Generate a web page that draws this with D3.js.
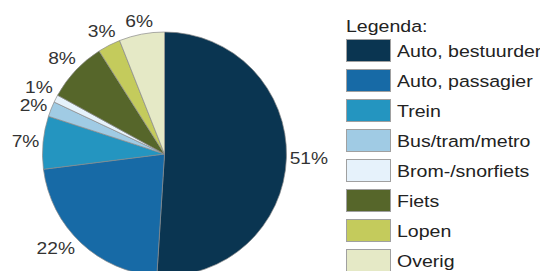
<!DOCTYPE html>
<html><head><meta charset="utf-8">
<script src="https://cdn.jsdelivr.net/npm/d3@7"></script>
<style>body{margin:0;background:#fff}svg{display:block}</style>
</head><body>
<svg id="c" width="540" height="271"></svg>
<script>
const categories = ["Auto, bestuurder","Auto, passagier","Trein","Bus/tram/metro","Brom-/snorfiets","Fiets","Lopen","Overig"];
const values = [51,22,7,2,1,8,3,6];
const labels = ["51%","22%","7%","2%","1%","8%","3%","6%"];
const colors = ["#0a3551","#176aa6","#2495c0","#a0cbe4","#e6f2fb","#56662a","#c4cb5c","#e5e9c6"];
const legendTitle = "Legenda:";

const FONT = "Liberation Sans, Arial, sans-serif";
const SX = 1.13, LSX = 1.15;
const svg = d3.select("#c");
const cx = 164.5, cy = 154, r = 122;
const plotBottom = 256;
const pie = d3.pie().sort(null).value(d => d)(values);
const arc = d3.arc().innerRadius(0).outerRadius(r);
const g = svg.append("g").attr("transform", `translate(${cx},${cy})`);
g.selectAll("path").data(pie).join("path")
  .attr("d", arc).attr("fill", (d,i) => colors[i])
  .attr("stroke", "#8a8a8a").attr("stroke-width", 0.7);

// outside-end labels
const texts = g.selectAll("text").data(pie).join("text")
  .attr("text-anchor", "middle").attr("dy", "0.35em")
  .style("font-family", FONT).style("font-size", "17px").attr("fill", "#333")
  .text((d,i) => labels[i]);
const pos = [];
texts.each(function(d) {
  const hw = this.getComputedTextLength() * SX / 2, hh = 8;
  const a = (d.startAngle + d.endAngle) / 2;
  const sx = Math.sin(a), sy = -Math.cos(a);
  const R = r + 3 + Math.abs(sx) * hw + Math.abs(sy) * hh;
  let x = sx * R, y = sy * R;
  const maxY = plotBottom - cy - hh;
  if (y > maxY) {
    y = maxY;
    const inner = Math.sqrt(Math.max(0, r * r - (y - hh) * (y - hh)));
    x = Math.sign(sx) * (inner + 3 + hw);
  }
  pos.push({x, y, hw, hh});
});
// simple collision relaxation
for (let it = 0; it < 30; it++) {
  for (let i = 0; i < pos.length; i++) for (let j = i + 1; j < pos.length; j++) {
    const p = pos[i], q = pos[j];
    const ox = p.hw + q.hw - Math.abs(p.x - q.x);
    const oy = 18 - Math.abs(p.y - q.y);
    if (ox > 0 && oy > 0) {
      const s = p.y < q.y ? -1 : 1;
      p.y += s * oy / 2; q.y -= s * oy / 2;
    }
  }
}
texts.attr("transform", (d,i) => `translate(${pos[i].x},${pos[i].y}) scale(${SX},1)`);

const lg = svg.append("g");
lg.append("text").attr("transform", `translate(346,32) scale(${LSX},1)`)
  .style("font-family", FONT).style("font-size", "17px").attr("fill", "#222").text(legendTitle);
const y = d3.scaleBand().domain(categories).range([39, 279]).paddingInner(0);
categories.forEach((c, i) => {
  const y0 = y(c);
  lg.append("rect").attr("x", 346.5).attr("y", y0 + 0.5).attr("width", 44).attr("height", 22)
    .attr("fill", colors[i]).attr("stroke", "#a0a0a0").attr("stroke-width", 1);
  lg.append("text").attr("transform", `translate(397,${y0 + 18}) scale(${LSX},1)`)
    .style("font-family", FONT).style("font-size", "17px").attr("fill", "#222").text(c);
});
</script>
</body></html>
